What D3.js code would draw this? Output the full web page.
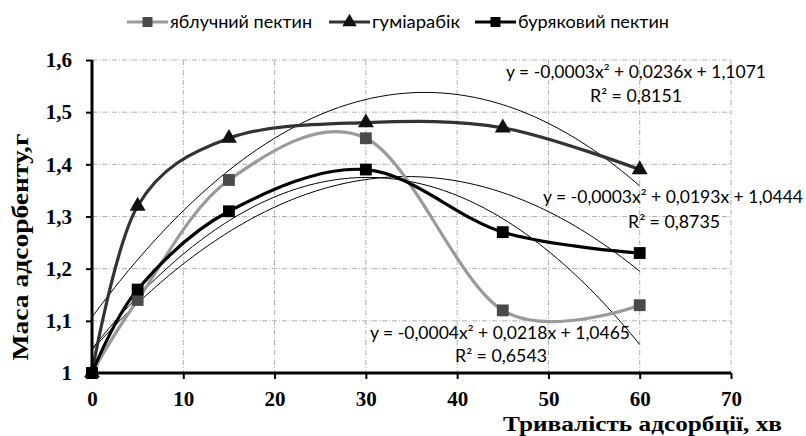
<!DOCTYPE html>
<html>
<head>
<meta charset="utf-8">
<script src="https://cdn.jsdelivr.net/npm/d3@7"></script>
<style>
  body { margin: 0; background: #fff; }
  svg { display: block; }
</style>
</head>
<body>
<div id="chart"></div>
<script>
// chart data
var minutes = [0, 5, 15, 30, 45, 60];
var applePectin = [1.00, 1.14, 1.37, 1.45, 1.12, 1.13];
var gumArabic = [1.00, 1.32, 1.45, 1.48, 1.47, 1.39];
var beetPectin = [1.00, 1.16, 1.31, 1.39, 1.27, 1.23];
var seriesNames = ["яблучний пектин", "гуміарабік", "буряковий пектин"];
var xTicks = [0, 10, 20, 30, 40, 50, 60, 70];
var yTicks = [1, 1.1, 1.2, 1.3, 1.4, 1.5, 1.6];
var equations = [
  ["y = -0,0003x² + 0,0236x + 1,1071", "R² = 0,8151"],
  ["y = -0,0003x² + 0,0193x + 1,0444", "R² = 0,8735"],
  ["y = -0,0004x² + 0,0218x + 1,0465", "R² = 0,6543"]
];

var W = 806, H = 436;
var margin = {top: 60, right: 75, bottom: 63, left: 92};
var width = W - margin.left - margin.right,
    height = H - margin.top - margin.bottom;

var svg = d3.select("#chart").append("svg")
    .attr("width", W)
    .attr("height", H);
var g = svg.append("g")
    .attr("transform", "translate(" + margin.left + "," + margin.top + ")");

var x = d3.scaleLinear().domain([0, 70]).range([0, width]);
var y = d3.scaleLinear().domain([1, 1.6]).range([height, 0]);

// gridlines
g.append("g").selectAll("line")
    .data(yTicks.slice(1))
    .enter().append("line")
    .attr("x1", 0).attr("x2", width)
    .attr("y1", d => y(d)).attr("y2", d => y(d))
    .attr("stroke", "#b0b0b0").attr("stroke-width", 1)
    .attr("stroke-dasharray", "5,2,1,2");
g.append("g").selectAll("line")
    .data(xTicks.slice(1))
    .enter().append("line")
    .attr("x1", d => x(d)).attr("x2", d => x(d))
    .attr("y1", 0).attr("y2", height)
    .attr("stroke", "#b0b0b0").attr("stroke-width", 1)
    .attr("stroke-dasharray", "5,2,1,2");

// least squares quadratic fit (like Excel polynomial trendline)
function quadFit(xs, ys) {
  var s = [0, 0, 0, 0, 0], t = [0, 0, 0];
  xs.forEach((xv, i) => {
    for (var k = 0; k < 5; k++) s[k] += Math.pow(xv, k);
    for (var k = 0; k < 3; k++) t[k] += ys[i] * Math.pow(xv, k);
  });
  var M = [[s[0], s[1], s[2], t[0]], [s[1], s[2], s[3], t[1]], [s[2], s[3], s[4], t[2]]];
  for (var i = 0; i < 3; i++) {
    for (var j = i + 1; j < 3; j++) {
      var f = M[j][i] / M[i][i];
      for (var k = i; k < 4; k++) M[j][k] -= f * M[i][k];
    }
  }
  var c = [0, 0, 0];
  for (var i = 2; i >= 0; i--) {
    var v = M[i][3];
    for (var k = i + 1; k < 3; k++) v -= M[i][k] * c[k];
    c[i] = v / M[i][i];
  }
  return c;
}

var allSeries = [
  {name: seriesNames[0], values: applePectin, line: "#9a9a9a", marker: "#4a4a4a", shape: "square"},
  {name: seriesNames[1], values: gumArabic, line: "#333", marker: "#111", shape: "triangle"},
  {name: seriesNames[2], values: beetPectin, line: "#000", marker: "#000", shape: "square"}
];

// trendlines
var trendX = d3.range(0, 60.5, 0.5);
allSeries.forEach(s => {
  var c = quadFit(minutes, s.values);
  g.append("path")
    .datum(trendX)
    .attr("fill", "none")
    .attr("stroke", "#000")
    .attr("stroke-width", 1)
    .attr("d", d3.line().x(d => x(d)).y(d => y(c[0] + c[1] * d + c[2] * d * d)));
});

// smoothed series lines
var line = d3.line()
    .x((d, i) => x(minutes[i]))
    .y(d => y(d))
    .curve(d3.curveCardinal.tension(0));

allSeries.forEach(s => {
  g.append("path")
    .datum(s.values)
    .attr("fill", "none")
    .attr("stroke", s.line)
    .attr("stroke-width", 3.2)
    .attr("d", line);
});

var squareSym = d3.symbol().type(d3.symbolSquare).size(140);
var triSym = d3.symbol().type(d3.symbolTriangle).size(110);

allSeries.forEach(s => {
  g.append("g").selectAll("path")
    .data(s.values)
    .enter().append("path")
    .attr("transform", (d, i) => "translate(" + x(minutes[i]) + "," + y(d) + ")")
    .attr("d", s.shape == "square" ? squareSym : triSym)
    .attr("fill", s.marker);
});

// axes
var xAxis = g.append("g")
    .attr("transform", "translate(0," + height + ")")
    .call(d3.axisBottom(x).tickValues(xTicks).tickSize(6).tickPadding(12).tickFormat(d3.format("d")));
var yAxis = g.append("g")
    .call(d3.axisLeft(y).tickValues(yTicks).tickSize(6).tickPadding(14)
      .tickFormat(d => d == 1 ? "1" : d3.format(".1f")(d).replace(".", ",")));

[xAxis, yAxis].forEach(a => {
  a.select(".domain").attr("stroke", "#000").attr("stroke-width", 3);
  a.selectAll(".tick line").attr("stroke", "#000").attr("stroke-width", 2);
  a.selectAll(".tick text")
    .style("font-family", "'Liberation Serif', 'Times New Roman', serif")
    .style("font-weight", "bold")
    .style("font-size", "21px")
    .attr("fill", "#000");
});
xAxis.select(".domain").attr("d", "M0,0H" + width);
yAxis.select(".domain").attr("d", "M0," + height + "V0");

// point at the origin sits over the axes
g.append("path")
  .attr("transform", "translate(" + x(0) + "," + y(1) + ")")
  .attr("d", squareSym)
  .attr("fill", "#000");

// axis titles
svg.append("text")
    .attr("text-anchor", "middle")
    .attr("transform", "translate(28,247) rotate(-90)")
    .attr("textLength", 227)
    .attr("lengthAdjust", "spacingAndGlyphs")
    .style("font-family", "'Liberation Serif', 'Times New Roman', serif")
    .style("font-weight", "bold")
    .style("font-size", "23px")
    .text("Маса адсорбенту,г");

svg.append("text")
    .attr("x", 503)
    .attr("y", 431)
    .attr("textLength", 279)
    .attr("lengthAdjust", "spacingAndGlyphs")
    .style("font-family", "'Liberation Serif', 'Times New Roman', serif")
    .style("font-weight", "bold")
    .style("font-size", "20px")
    .text("Тривалість адсорбції, хв");

// trendline equations
var eqPos = [[636, 78, 636, 102], [673, 203, 674, 228], [500, 339, 501, 362]];
equations.forEach((e, i) => {
  var p = eqPos[i];
  [[e[0], p[0], p[1], 260], [e[1], p[2], p[3], 92]].forEach(t => {
    svg.append("text")
      .attr("text-anchor", "middle")
      .attr("x", t[1]).attr("y", t[2])
      .attr("textLength", t[3])
      .attr("lengthAdjust", "spacingAndGlyphs")
      .style("font-family", "Lato, 'Open Sans', sans-serif")
      .style("font-size", "17px")
      .attr("fill", "#000")
      .text(t[0]);
  });
});

// legend
var legendX = [127, 329, 475];
var legendW = [142, 88, 151];
var legend = svg.append("g");
allSeries.forEach((s, i) => {
  var lg = legend.append("g").attr("transform", "translate(" + legendX[i] + ",22)");
  lg.append("line").attr("x1", 0).attr("x2", 41).attr("y1", 0).attr("y2", 0)
    .attr("stroke", s.line).attr("stroke-width", 3.2);
  lg.append("path").attr("transform", "translate(20.5,0)")
    .attr("d", s.shape == "square" ? d3.symbol().type(d3.symbolSquare).size(100) : d3.symbol().type(d3.symbolTriangle).size(90))
    .attr("fill", s.marker);
  lg.append("text").attr("x", 43).attr("y", 6)
    .attr("textLength", legendW[i])
    .attr("lengthAdjust", "spacingAndGlyphs")
    .style("font-family", "Lato, 'Open Sans', sans-serif")
    .style("font-size", "17px")
    .text(s.name);
});
</script>
</body>
</html>
